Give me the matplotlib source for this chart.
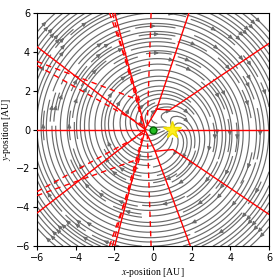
import numpy as np
import matplotlib
matplotlib.use("Agg")
import matplotlib.pyplot as plt

plt.rcParams['mathtext.fontset'] = 'stix'

# Data
limits = [-6, 6]
ticks = [-6, -4, -2, 0, 2, 4, 6]
earth_pos = (0.0, 0.0)
star_pos = (1.0, 0.0)
rotation_rate = 1.0
source_strength = 0.9

# solid red field lines (polylines, x and y)
solid_x = [
    [-6.0, -0.4], [1.0, 6.0],
    [-6.0, -0.4], [-1.98, -0.4], [-1.98, -0.4], [-6.0, -0.4],
    [1.86, 0.17, -0.4], [6.0, 0.86, 0.15],
    [1.93, 0.09, -0.4], [6.0, 1.03, 0.12],
]
solid_y = [
    [0.0, 0.0], [0.0, 0.0],
    [4.26, 0.0], [6.0, 0.0], [-6.0, 0.0], [-4.3, 0.0],
    [6.0, 0.99, 0.05], [4.43, 1.0, 1.05],
    [-6.0, -1.07, -0.05], [-4.37, -1.03, -1.12],
]
# dashed red lines
dashed_x = [
    [-6.0, -0.7], [-6.0, -0.5], [-6.0, -0.7], [-6.0, -0.5],
    [-2.25, -0.7], [-2.1, -0.5], [-2.25, -0.7], [-2.1, -0.5],
    [-0.1, -0.3], [-0.1, -0.3],
]
dashed_y = [
    [3.5, 1.5], [3.3, 0.2], [-3.4, -1.5], [-3.2, -0.2],
    [6.0, 1.5], [6.0, 0.2], [-6.0, -1.5], [-6.0, -0.2],
    [6.0, 0.2], [-6.0, -0.2],
]

fig = plt.figure(figsize=(2.8, 2.8), dpi=100)
ax = fig.add_axes([0.132, 0.121, 0.829, 0.833])

x = np.linspace(limits[0], limits[1], 240)
y = np.linspace(limits[0], limits[1], 240)
X, Y = np.meshgrid(x, y)
dx = X - star_pos[0]
dy = Y - star_pos[1]
r2 = dx**2 + dy**2 + 1e-3
U = rotation_rate * Y + source_strength * dx / r2
V = -rotation_rate * X + source_strength * dy / r2
ax.streamplot(X, Y, U, V, density=2.1, color='#6a6a6a', linewidth=0.85,
              arrowsize=0.55, zorder=1)

for xs, ys in zip(solid_x, solid_y):
    ax.plot(xs, ys, color='red', lw=1.0, zorder=3)
for xs, ys in zip(dashed_x, dashed_y):
    ax.plot(xs, ys, color='red', lw=1.0, ls=(0, (4, 3)), zorder=3)

ax.plot(*earth_pos, 'o', color='#22bb22', mec='#006600', ms=5, zorder=5)
ax.plot(*star_pos, '*', color='#ffee22', mec='#eedd00', ms=13, zorder=5)

ax.set_xlim(limits)
ax.set_ylim(limits)
ax.set_xticks(ticks)
ax.set_yticks(ticks)
ax.tick_params(labelsize=7, length=3, width=0.8, pad=2)
ax.set_xlabel('$x$-position [AU]', fontsize=7, family='Liberation Serif')
ax.set_ylabel('$y$-position [AU]', fontsize=7, family='Liberation Serif')
ax.xaxis.set_label_coords(0.5, -0.085)
ax.yaxis.set_label_coords(-0.105, 0.5)
for s in ax.spines.values():
    s.set_linewidth(0.8)

fig.savefig('out.png', dpi=100)
